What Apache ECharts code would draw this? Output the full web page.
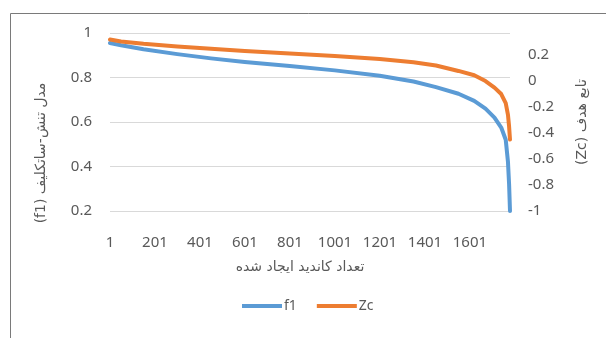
<!DOCTYPE html>
<html>
<head>
<meta charset="utf-8">
<script src="https://cdn.jsdelivr.net/npm/echarts@6/dist/echarts.min.js"></script>
<style>html,body{margin:0;padding:0;background:#fff}#c{width:606px;height:338px}</style>
</head>
<body>
<div id="c"></div>
<script>
const candidateIndex = [1, 50, 150, 300, 450, 600, 800, 1000, 1200, 1350, 1450, 1550, 1620, 1670, 1710, 1740, 1760, 1770, 1775, 1779];
// f1 (left axis)
const f1Values = [0.955, 0.945, 0.927, 0.905, 0.886, 0.870, 0.852, 0.832, 0.808, 0.782, 0.757, 0.727, 0.695, 0.660, 0.620, 0.575, 0.520, 0.420, 0.320, 0.200];
// Zc (right axis)
const zcValues = [0.320, 0.305, 0.287, 0.266, 0.248, 0.232, 0.212, 0.193, 0.170, 0.145, 0.120, 0.078, 0.045, 0.000, -0.050, -0.100, -0.170, -0.260, -0.350, -0.450];
const xTickValues = [1, 201, 401, 601, 801, 1001, 1201, 1401, 1601];
const leftTicks = [0.2, 0.4, 0.6, 0.8, 1];
const rightTicks = [-1, -0.8, -0.6, -0.4, -0.2, 0, 0.2];

const textColor = '#595959';
const numFont = 'Noto Sans';
const faFont = 'DejaVu Sans';

const chart = echarts.init(document.getElementById('c'));
chart.setOption({
  animation: false,
  backgroundColor: '#fff',
  graphic: [{
    type: 'rect', left: 8, top: 11, silent: true,
    shape: { width: 640, height: 360 },
    style: { fill: 'none', stroke: '#7a7a7a', lineWidth: 1 }
  }],
  grid: { left: 110, right: 96, top: 33, bottom: 127 },
  legend: {
    bottom: 20, left: 237, itemGap: 20,
    itemWidth: 40, itemHeight: 4, icon: 'rect',
    textStyle: { color: textColor, fontFamily: numFont, fontSize: 14, padding: [0, 0, 0, -3] },
    data: ['f1', 'Zc']
  },
  xAxis: {
    type: 'value', min: 1, max: 1779,
    name: 'تعداد کاندید ایجاد شده', nameLocation: 'middle', nameGap: 49,
    nameTextStyle: { color: textColor, fontFamily: faFont, fontSize: 14, padding: [0, 20, 0, 0] },
    axisLine: { show: false }, axisTick: { show: false }, splitLine: { show: false },
    axisLabel: { customValues: xTickValues, color: textColor, fontFamily: numFont, fontSize: 15, margin: 24,
      formatter: v => String(v) }
  },
  yAxis: [{
    type: 'value', min: 0.2, max: 1, interval: 0.2,
    name: '(f1) مدل تنش-ساتکلیف', nameLocation: 'middle', nameGap: 62, nameRotate: 90,
    nameTextStyle: { color: textColor, fontFamily: faFont, fontSize: 14, padding: [0, 62, 0, 0] },
    axisLine: { show: false }, axisTick: { show: false },
    splitLine: { lineStyle: { color: '#d9d9d9', width: 1 } },
    axisLabel: { color: textColor, fontFamily: numFont, fontSize: 15, margin: 18,
      formatter: v => leftTicks.includes(+v.toFixed(2)) ? String(+v.toFixed(2)) : '' }
  }, {
    type: 'value', min: -1, max: 0.37, interval: 0.2, position: 'right',
    name: '(Zc) تابع هدف', nameLocation: 'middle', nameGap: 65, nameRotate: 90,
    nameTextStyle: { color: textColor, fontFamily: faFont, fontSize: 14 },
    axisLine: { show: false }, axisTick: { show: false }, splitLine: { show: false },
    axisLabel: { color: textColor, fontFamily: numFont, fontSize: 15, margin: 18, showMaxLabel: false,
      formatter: v => rightTicks.includes(+v.toFixed(2)) ? String(+v.toFixed(2)) : '' }
  }],
  series: [{
    name: 'f1', type: 'line', yAxisIndex: 0, symbol: 'none', smooth: false,
    lineStyle: { color: '#5B9BD5', width: 4, cap: 'round', join: 'round' },
    itemStyle: { color: '#5B9BD5' },
    data: candidateIndex.map((x, i) => [x, f1Values[i]])
  }, {
    name: 'Zc', type: 'line', yAxisIndex: 1, symbol: 'none', smooth: false,
    lineStyle: { color: '#ED7D31', width: 4, cap: 'round', join: 'round' },
    itemStyle: { color: '#ED7D31' },
    data: candidateIndex.map((x, i) => [x, zcValues[i]])
  }]
});
</script>
</body>
</html>
